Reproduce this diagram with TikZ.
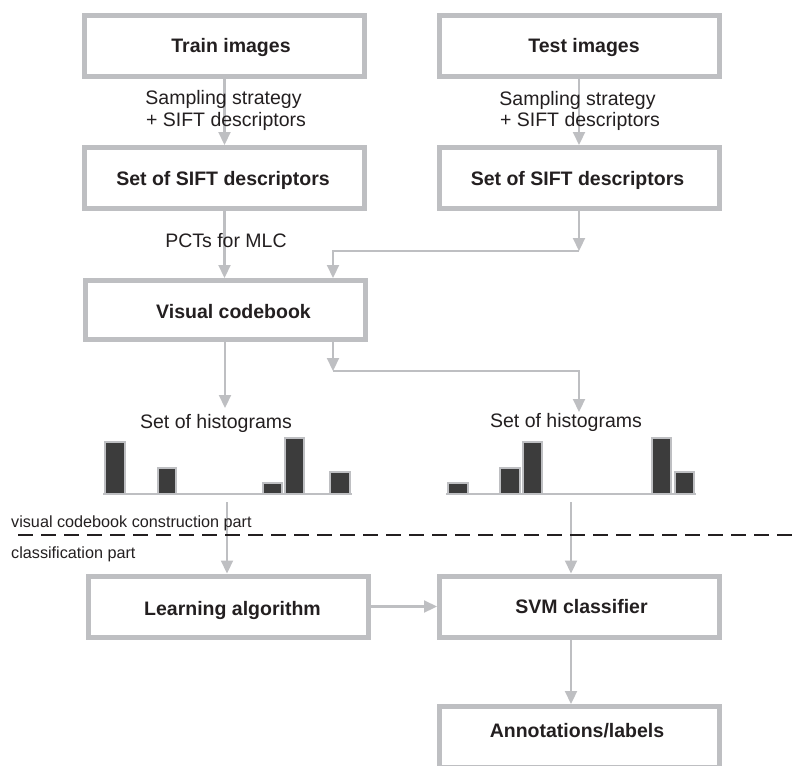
\documentclass[tikz,border=0pt]{standalone}
\usepackage{fontspec}
\setmainfont{Liberation Sans}
\usetikzlibrary{arrows.meta}
\definecolor{boxgray}{RGB}{190,191,194}
\definecolor{txt}{RGB}{35,31,32}
\definecolor{barfill}{RGB}{60,60,60}
\begin{document}
\begin{tikzpicture}[x=1pt,y=-1pt,
  box/.style={draw=boxgray, line width=5pt, rectangle, inner sep=0pt,
              minimum width=280pt, minimum height=61pt},
  arr/.style={draw=boxgray, line width=2.2pt, -{Triangle[length=13pt,width=12pt]}},
  lbl/.style={font=\fontsize{19.5}{23}\selectfont, text=txt, anchor=base, inner sep=0pt},
  bxt/.style={lbl, font=\fontsize{19.5}{23}\selectfont\bfseries},
  part/.style={font=\fontsize{16.2}{19}\selectfont, text=txt, anchor=base west, inner sep=0pt},
  bar/.style={fill=barfill, draw=boxgray, line width=2pt}]
\useasboundingbox (0,0) rectangle (794,765);
\clip (0,0) rectangle (794,765);

% boxes
\node[box] (train) at (224.5,46) {};
\node[box] (test)  at (579,46) {};
\node[box] (siftL) at (224.5,178) {};
\node[box] (siftR) at (579,178) {};
\node[box, minimum height=59pt] (code) at (225,310) {};
\node[box] (learn) at (228,606.5) {};
\node[box] (svm)   at (579.5,606.5) {};
\node[box] (annot) at (579.5,737) {};

% junctions and histogram ends
\coordinate (j1)  at (579,251);
\coordinate (j1b) at (333,251);
\coordinate (j2)  at (333,371);
\coordinate (j2b) at (579,371);
\coordinate (hlt) at (225,408);
\coordinate (hlb) at (227,502);
\coordinate (hrb) at (571,502);

% connectors
\draw[arr] (train.south) -- (siftL.north);
\draw[arr] (test.south) -- (siftR.north);
\draw[arr] (siftL.south) -- (siftL.south |- code.north);
\draw[arr] (siftR.south) -- (j1);
\draw[arr] (j1) -- (j1b) -- (j1b |- code.north);
\draw[arr] (code.south) -- (hlt);
\draw[arr] (code.south -| j2) -- (j2);
\draw[arr] (j2) -- (j2b) -- (579,412);
\draw[arr] (hlb) -- (hlb |- learn.north);
\draw[arr] (hrb) -- (hrb |- svm.north);
\draw[arr] (svm.south -| hrb) -- (hrb |- annot.north);
\draw[arr] (learn.east) -- (svm.west);

% histograms
\draw[boxgray, line width=2.5pt] (103,494) -- (352,494);
\foreach \a/\b/\t in {104/126/441, 157/177/467, 262/283/482, 284/305/437, 329/351/471}
  \draw[bar] (\a+1,494) rectangle (\b-1,\t+1);
\draw[boxgray, line width=2.5pt] (446,494) -- (696,494);
\foreach \a/\b/\t in {447/469/482, 499/521/467, 522/543/441, 651/672/437, 674/695/471}
  \draw[bar] (\a+1,494) rectangle (\b-1,\t+1);

% divider between the two parts
\draw[txt, line width=2.7pt, dash pattern=on 15pt off 8pt] (18,535) -- (794,535);

% texts
\node[bxt] (trainT) at (231,53) {Train images};
\node[bxt] (testT)  at (584,53) {Test images};
\node[bxt] (siftLT) at (223,185) {Set of SIFT descriptors};
\node[bxt] (siftRT) at (577.5,185) {Set of SIFT descriptors};
\node[bxt] (codeT)  at (233.5,318) {Visual codebook};
\node[bxt] (learnT) at (232.5,615) {Learning algorithm};
\node[bxt] (svmT)   at (581.5,613) {SVM classifier};
\node[bxt] (annotT) at (577,737) {Annotations/labels};

\node[lbl] (sL1) at (223.5,105) {Sampling strategy};
\node[lbl] (sL2) at (226,126) {+ SIFT descriptors};
\node[lbl] (sR1) at (577.5,106) {Sampling strategy};
\node[lbl] (sR2) at (580,126) {+ SIFT descriptors};
\node[lbl] (pct) at (226,247) {PCTs for MLC};
\node[lbl] (hl)  at (216,428) {Set of histograms};
\node[lbl] (hr)  at (566,427) {Set of histograms};

\node[part] (p1) at (11,527) {visual codebook construction part};
\node[part] (p2) at (11,558) {classification part};
\end{tikzpicture}
\end{document}
